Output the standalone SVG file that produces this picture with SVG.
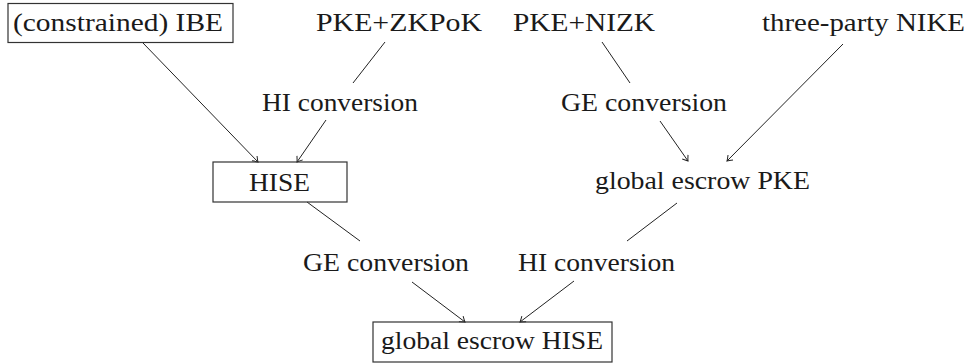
<svg xmlns="http://www.w3.org/2000/svg" width="970" height="363" viewBox="0 0 970 363">
<defs>
<style>
.box{fill:none;stroke:#333;stroke-width:1.2}
.ln{stroke:#222;stroke-width:1;fill:none}
.ar{marker-end:url(#to)}
</style>
<marker id="to" viewBox="-6 -5 8 10" markerWidth="8" markerHeight="10" refX="0" refY="0" orient="auto" markerUnits="userSpaceOnUse">
<path d="M-5,-3.5 Q-1.5,-0.8 0,0 Q-1.5,0.8 -5,3.5" fill="none" stroke="#222" stroke-width="1"/>
</marker>
</defs>
<rect width="970" height="363" fill="#fff"/>
<g id="connectors">
<line class="ln ar" x1="143" y1="43" x2="258" y2="162"/>
<line class="ln" x1="385" y1="42" x2="353" y2="83"/>
<line class="ln ar" x1="326" y1="120" x2="297" y2="162"/>
<line class="ln" x1="602" y1="42" x2="630" y2="83"/>
<line class="ln ar" x1="660" y1="121" x2="688" y2="161"/>
<line class="ln ar" x1="843" y1="44" x2="727" y2="161"/>
<line class="ln" x1="307" y1="202" x2="360" y2="241"/>
<line class="ln ar" x1="412" y1="282" x2="465" y2="322"/>
<line class="ln" x1="677" y1="203" x2="627" y2="241"/>
<line class="ln ar" x1="574" y1="281" x2="520" y2="322"/>
</g>
<g font-family="Liberation Serif, Times New Roman, DejaVu Serif, serif" font-size="26" fill="#1a1a1a">
<g id="ibe">
<rect class="box" x="8" y="3.5" width="225" height="39"/>
<text x="13" y="31" textLength="210" lengthAdjust="spacingAndGlyphs">(constrained) IBE</text>
</g>
<g id="pke-zkpok">
<text x="316" y="31" textLength="166" lengthAdjust="spacingAndGlyphs">PKE+ZKPoK</text>
</g>
<g id="pke-nizk">
<text x="513" y="31" textLength="142" lengthAdjust="spacingAndGlyphs">PKE+NIZK</text>
</g>
<g id="nike">
<text x="762" y="31" textLength="203" lengthAdjust="spacingAndGlyphs">three-party NIKE</text>
</g>
<g id="hi-conv-top">
<text x="262" y="111" textLength="156" lengthAdjust="spacingAndGlyphs">HI conversion</text>
</g>
<g id="ge-conv-top">
<text x="561" y="111" textLength="166" lengthAdjust="spacingAndGlyphs">GE conversion</text>
</g>
<g id="hise">
<rect class="box" x="213" y="162" width="134" height="40"/>
<text x="249" y="191" textLength="61" lengthAdjust="spacingAndGlyphs">HISE</text>
</g>
<g id="ge-pke">
<text x="595" y="189" textLength="215" lengthAdjust="spacingAndGlyphs">global escrow PKE</text>
</g>
<g id="ge-conv-bottom">
<text x="303" y="271" textLength="166" lengthAdjust="spacingAndGlyphs">GE conversion</text>
</g>
<g id="hi-conv-bottom">
<text x="518" y="271" textLength="157" lengthAdjust="spacingAndGlyphs">HI conversion</text>
</g>
<g id="ge-hise">
<rect class="box" x="373" y="322" width="239" height="40"/>
<text x="381" y="349" textLength="222" lengthAdjust="spacingAndGlyphs">global escrow HISE</text>
</g>
</g>
</svg>
